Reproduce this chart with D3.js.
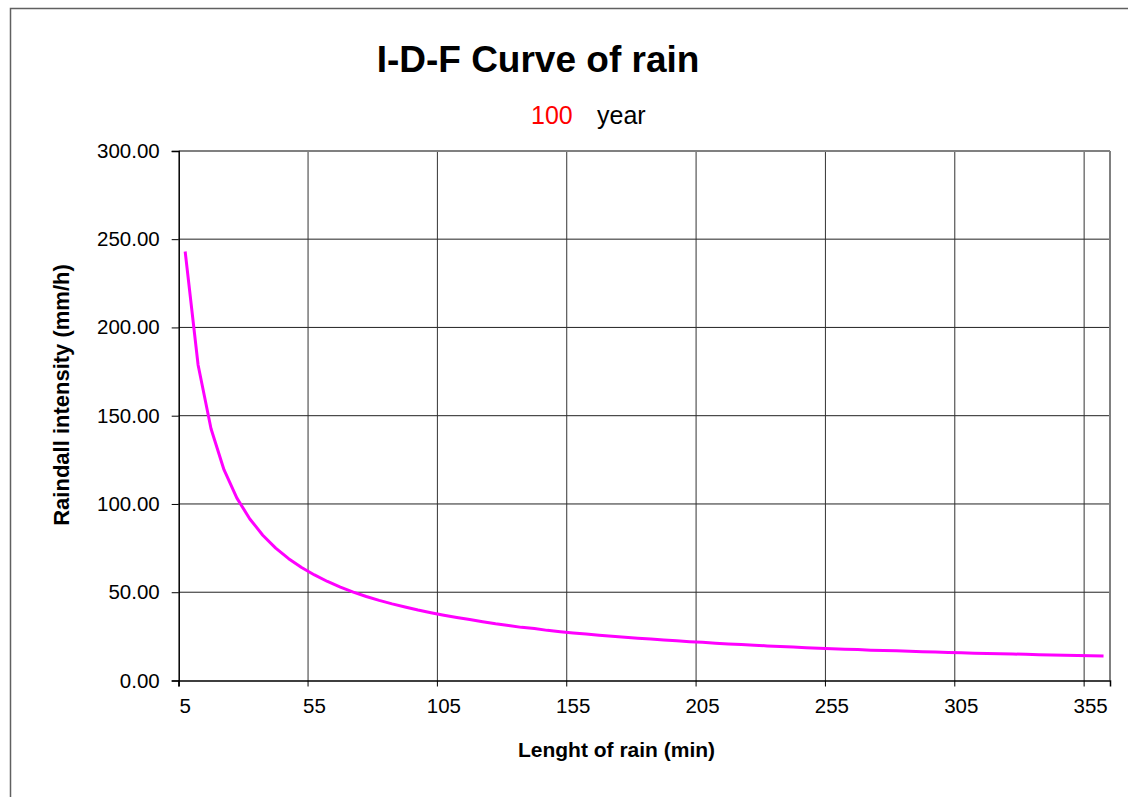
<!DOCTYPE html>
<html>
<head>
<meta charset="utf-8">
<script src="https://cdn.jsdelivr.net/npm/d3@7"></script>
<style>
  html, body { margin: 0; padding: 0; background: #fff; }
  svg { display: block; }
  text { font-family: "Liberation Sans", Arial, sans-serif; }
</style>
</head>
<body>
<svg id="chart" width="1128" height="797"></svg>
<script>
// ---- data ----
const durations = [5,10,15,20,25,30,35,40,45,50,55,60,65,70,75,80,85,90,95,100,
  105,110,115,120,125,130,135,140,145,150,155,160,165,170,175,180,185,190,195,200,
  205,210,215,220,225,230,235,240,245,250,255,260,265,270,275,280,285,290,295,300,
  305,310,315,320,325,330,335,340,345,350,355,360];
const intensity = [243.0,178.7,142.6,119.4,103.3,91.5,82.3,75.0,69.0,64.0,
  59.8,56.1,52.9,50.1,47.6,45.4,43.4,41.6,39.9,38.4,
  37.0,35.7,34.5,33.3,32.1,31.2,30.1,29.4,28.4,27.6,
  26.9,26.3,25.7,25.1,24.5,24.0,23.5,23.0,22.5,22.0,
  21.6,21.1,20.7,20.4,20.0,19.6,19.3,19.0,18.6,18.3,
  18.0,17.75,17.5,17.2,17.0,16.8,16.5,16.3,16.1,15.9,
  15.7,15.5,15.3,15.1,15.0,14.8,14.6,14.5,14.3,14.2,
  14.0,13.9];
const xTickLabels = [5,55,105,155,205,255,305,355];
const yTicks = [0,50,100,150,200,250,300];
const titleText = "I-D-F Curve of rain";
const returnPeriod = "100";
const returnUnit = "year";
const xTitle = "Lenght of rain (min)";
const yTitle = "Raindall intensity (mm/h)";

// ---- layout ----
const svg = d3.select("#chart");
const plot = { left: 178.7, right: 1110, top: 150.9, bottom: 680.5 };

// outer chart border
svg.append("rect")
  .attr("x", 10.5).attr("y", 8.5)
  .attr("width", 1140).attr("height", 820)
  .attr("fill", "none").attr("stroke", "#606060").attr("stroke-width", 1.5);

const x = d3.scaleBand().domain(durations).range([plot.left, plot.right]).padding(0);
const bw = x.bandwidth();
const y = d3.scaleLinear().domain([0, 300]).range([plot.bottom, plot.top]);

// horizontal gridlines
svg.append("g").selectAll("line")
  .data(yTicks.filter(v => v > 0 && v < 300))
  .join("line")
  .attr("x1", plot.left).attr("x2", plot.right)
  .attr("y1", d => y(d)).attr("y2", d => y(d))
  .attr("stroke", "#222").attr("stroke-width", 1);

// vertical gridlines (at category boundaries of labelled categories)
svg.append("g").selectAll("line")
  .data(xTickLabels.filter(v => v !== durations[0]))
  .join("line")
  .attr("x1", d => x(d)).attr("x2", d => x(d))
  .attr("y1", plot.top).attr("y2", plot.bottom)
  .attr("stroke", "#333").attr("stroke-width", 1);

// plot border top/right (gray)
svg.append("line").attr("x1", plot.left).attr("x2", plot.right)
  .attr("y1", plot.top).attr("y2", plot.top)
  .attr("stroke", "#808080").attr("stroke-width", 2);
svg.append("line").attr("x1", plot.right).attr("x2", plot.right)
  .attr("y1", plot.top).attr("y2", plot.bottom)
  .attr("stroke", "#808080").attr("stroke-width", 2);

// y axis
const yAxis = d3.axisLeft(y).tickValues(yTicks).tickSize(7).tickPadding(12)
  .tickFormat(d3.format(".2f"));
const gy = svg.append("g").attr("transform", `translate(${plot.left},0)`).call(yAxis);
gy.select(".domain").attr("stroke", "#000").attr("stroke-width", 1.5);
gy.selectAll(".tick line").attr("stroke", "#000");
gy.selectAll(".tick text").attr("font-size", 20.5).attr("fill", "#000")
  .style("font-family", "'Liberation Sans', Arial, sans-serif");

// x axis (category axis: ticks at category boundaries, labels at centers)
const xAxis = d3.axisBottom(x).tickValues(xTickLabels).tickSize(6).tickPadding(12);
const gx = svg.append("g").attr("transform", `translate(0,${plot.bottom})`).call(xAxis);
gx.select(".domain").attr("stroke", "#000").attr("stroke-width", 1.5);
gx.selectAll(".tick line").attr("stroke", "#000").attr("transform", `translate(${-bw/2},0)`);
gx.selectAll(".tick text").attr("font-size", 20.5).attr("fill", "#000")
  .style("font-family", "'Liberation Sans', Arial, sans-serif");

// curve
const data = durations.map((t, i) => ({ t, v: intensity[i] }));
svg.append("path")
  .datum(data)
  .attr("fill", "none")
  .attr("stroke", "#ff00ff")
  .attr("stroke-width", 3)
  .attr("stroke-linejoin", "round")
  .attr("d", d3.line().x(d => x(d.t) + bw / 2).y(d => y(d.v)));

// titles
svg.append("text")
  .attr("x", 538).attr("y", 72)
  .attr("text-anchor", "middle")
  .attr("font-size", 37).attr("font-weight", "bold")
  .text(titleText);

svg.append("text")
  .attr("x", 531).attr("y", 124)
  .attr("font-size", 25).attr("fill", "#ff0000")
  .text(returnPeriod);
svg.append("text")
  .attr("x", 597).attr("y", 124)
  .attr("font-size", 25).attr("fill", "#000")
  .text(returnUnit);

svg.append("text")
  .attr("x", 616.5).attr("y", 757)
  .attr("text-anchor", "middle")
  .attr("font-size", 21).attr("font-weight", "bold")
  .text(xTitle);

svg.append("text")
  .attr("transform", "translate(69,395) rotate(-90)")
  .attr("text-anchor", "middle")
  .attr("font-size", 22).attr("font-weight", "bold")
  .text(yTitle);
</script>
</body>
</html>
